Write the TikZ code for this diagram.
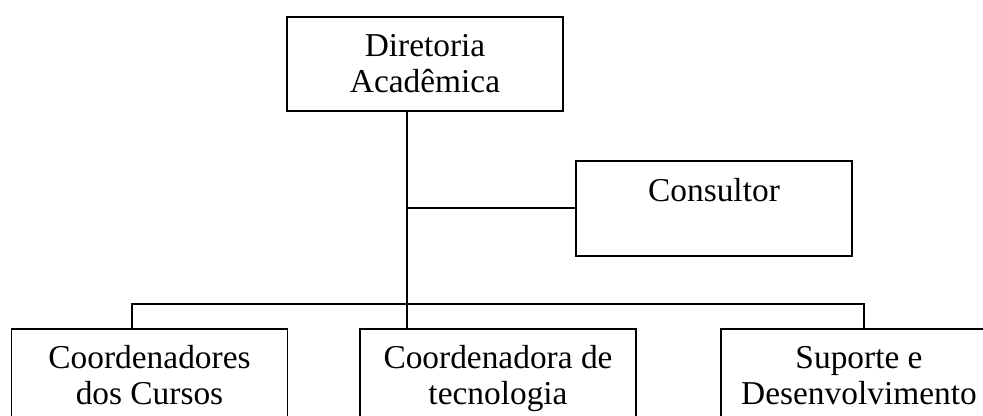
\documentclass[tikz,border=0pt]{standalone}
\usepackage{fontspec}
\setmainfont{Liberation Serif}
\usetikzlibrary{positioning}

\tikzset{
  orgbox/.style={draw, line width=1.1pt, rectangle, minimum width=5.52cm,
    inner xsep=0pt, inner ysep=0pt, align=center,
    font=\fontsize{19}{21}\selectfont},
  oneline/.style={orgbox, text height=0.82cm, text depth=1.08cm},
  twoline/.style={orgbox, text height=1.52cm, text depth=0.36cm},
  link/.style={line width=1pt}
}

\begin{document}
\begin{tikzpicture}

    \useasboundingbox (0,0) rectangle (19.66,-8.32);
    \clip (0,0) rectangle (19.66,-8.32);

    % boxes
    \node (dir) at (8.5,-0.32) [twoline, anchor=north] {Diretoria\\Acadêmica};
    \node (cons) at (14.28,-3.2) [oneline, anchor=north] {Consultor};
    \node (cursos) at (2.99,-6.56) [twoline, anchor=north] {Coordenadores\\dos Cursos};
    \node (tec) at (9.96,-6.56) [twoline, anchor=north] {Coordenadora de\\tecnologia};
    \node (sup) at (17.18,-6.56) [twoline, anchor=north] {Suporte e\\Desenvolvimento};

    \coordinate (hub) at (8.14,-4.16);
    \coordinate (fork) at (8.14,-6.08);
    \coordinate (lend) at (2.64,-6.08);
    \coordinate (rend) at (17.28,-6.08);

    % lines
    \draw[link] (dir.south -| fork) -- (tec.north -| fork);
    \draw[link] (hub) -- (hub -| cons.west);
    \draw[link] (cursos.north -| lend) -- (lend) -- (rend) -- (sup.north -| rend);

\end{tikzpicture}
\end{document}
